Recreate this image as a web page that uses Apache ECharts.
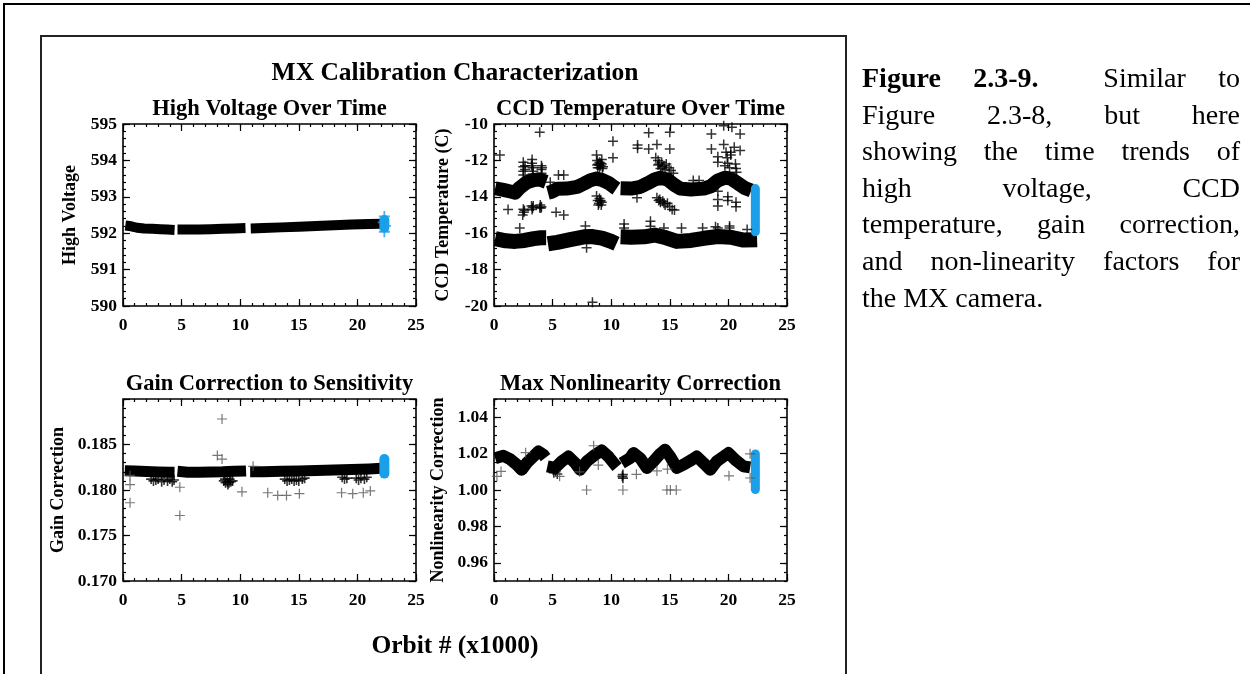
<!DOCTYPE html>
<html>
<head>
<meta charset="utf-8">
<script src="https://cdn.jsdelivr.net/npm/echarts@6/dist/echarts.min.js"></script>
<style>
  html, body { margin:0; padding:0; background:#fff; }
  #wrap { position:relative; width:1250px; height:674px; overflow:hidden; background:#fff; }
  #chart { position:absolute; left:0; top:0; width:1250px; height:674px; }
  #outer { position:absolute; left:3px; top:3px; width:1300px; height:800px; border-top:2px solid #000; border-left:2px solid #000; }
  #inner { position:absolute; left:40px; top:35px; width:803px; height:800px; border:2px solid #222; }
  #cap { position:absolute; left:862px; top:60px; width:378px; font-family:"Liberation Serif", serif; font-size:28px; line-height:36.6px; color:#000; }
  #cap .j { text-align:justify; text-align-last:justify; white-space:nowrap; }
</style>
</head>
<body>
<div id="wrap">
  <div id="outer"></div>
  <div id="inner"></div>
  <div id="chart"></div>
  <div id="cap">
    <div class="j"><b>Figure 2.3-9.</b>&nbsp; Similar to</div>
    <div class="j">Figure 2.3-8, but here</div>
    <div class="j">showing the time trends of</div>
    <div class="j">high voltage, CCD</div>
    <div class="j">temperature, gain correction,</div>
    <div class="j">and non-linearity factors for</div>
    <div>the MX camera.</div>
  </div>
</div>
<script>
// ---------------- tick values ----------------
const orbitTicks = [0, 5, 10, 15, 20, 25];
const hvTicks = [590, 591, 592, 593, 594, 595];
const ccdTicks = [-20, -18, -16, -14, -12, -10];
const gainTicks = [0.170, 0.175, 0.180, 0.185, 0.190];
const gainLabels = [0.170, 0.175, 0.180, 0.185];
const nlTicks = [0.96, 0.98, 1.00, 1.02, 1.04];

// ---------------- High voltage (orbit x1000, volts) ----------------
const hvSeg1 = [[0.2,592.21],[0.7,592.19],[1.2,592.15],[1.8,592.13],[2.5,592.12],[3.2,592.11],[3.8,592.10],[4.4,592.09]];
const hvSeg2 = [[4.65,592.10],[5.5,592.10],[6.5,592.10],[7.5,592.11],[8.5,592.12],[9.5,592.13],[10.45,592.14]];
const hvSeg3 = [[10.9,592.13],[12.0,592.14],[13.5,592.16],[15.0,592.18],[16.5,592.20],[18.0,592.22],[19.5,592.24],[21.0,592.25],[22.05,592.26]];
const hvBlue = [[22.3,592.15],[22.3,592.36]];
const hvBluePlus = [[22.3,592.46],[22.3,592.04],[22.2,592.3],[22.4,592.2]];

// ---------------- CCD temperature (C) ----------------
const ccdUpper1 = [[0.1,-13.53],[0.8,-13.62],[1.4,-13.71],[1.8,-13.77],[2.2,-13.5],[2.8,-13.2],[3.4,-13.08],[3.9,-13.05],[4.45,-13.18]];
const ccdUpper2 = [[4.6,-13.78],[4.95,-13.72],[5.4,-13.56],[6.2,-13.55],[7.1,-13.45],[7.7,-13.27],[8.2,-13.1],[8.7,-13.0],[9.2,-13.07],[9.8,-13.25],[10.2,-13.44],[10.45,-13.55]];
const ccdUpper3 = [[10.8,-13.53],[11.7,-13.55],[12.5,-13.45],[13.1,-13.26],[13.7,-13.05],[14.2,-12.95],[14.8,-13.05],[15.4,-13.35],[15.9,-13.55],[16.8,-13.6],[17.9,-13.55],[18.5,-13.42],[19.1,-13.1],[19.7,-12.95],[20.2,-13.0],[20.8,-13.25],[21.4,-13.52],[21.95,-13.66]];
const ccdLower1 = [[0.1,-16.3],[1.0,-16.42],[1.8,-16.45],[2.6,-16.4],[3.4,-16.3],[4.0,-16.25],[4.45,-16.25]];
const ccdLower2 = [[4.6,-16.58],[5.4,-16.5],[6.5,-16.35],[7.7,-16.2],[8.3,-16.18],[9.2,-16.27],[10.0,-16.45],[10.45,-16.58]];
const ccdLower3 = [[10.8,-16.2],[11.7,-16.22],[12.8,-16.2],[13.7,-16.1],[14.5,-16.22],[15.6,-16.45],[16.8,-16.4],[17.9,-16.28],[19.1,-16.18],[20.2,-16.22],[21.3,-16.38],[22.45,-16.36]];
const ccdBlue = [[22.3,-13.55],[22.3,-15.92]];
const ccdScatter = [
  [0.5,-11.7],[3.9,-10.45],[1.2,-14.7],[2.2,-15.72],[10.15,-10.95],[10.15,-11.85],[12.25,-11.15],[12.25,-11.33],
  [13.2,-10.48],[13.2,-11.38],[13.9,-11.12],[15.0,-10.45],[15.0,-11.38],[18.55,-10.55],[18.55,-11.38],[19.6,-10.1],
  [20.3,-10.18],[21.0,-10.55],[19.6,-11.12],[20.5,-11.28],[21.0,-11.45],[20.2,-11.55],[20.2,-11.7],[8.4,-19.8],
  [12.2,-14.05],[7.9,-16.8],[11.1,-15.5],[11.1,-15.72],[13.35,-15.35],[13.35,-15.62],[7.8,-15.6],[14.5,-15.72],
  [16.0,-15.72],[17.8,-15.72],[19.1,-15.72],[20.1,-15.6],[20.1,-15.72],[5.5,-12.8],[5.95,-12.8],[4.8,-13.2],
  [17.0,-13.1],[17.5,-13.1],[18.9,-15.65],[21.6,-15.8],
  [2.5,-12.1],[2.5,-12.35],[2.5,-12.6],[2.5,-12.8],[2.65,-12.3],[2.65,-12.5],
  [3.25,-11.95],[3.25,-12.15],[3.3,-12.4],[3.35,-12.6],[3.3,-12.75],[3.2,-12.3],
  [4.05,-12.3],[4.05,-12.5],[4.05,-12.7],[4.1,-12.4],
  [8.75,-11.7],[8.8,-12.0],[8.9,-12.2],[9.0,-12.1],[9.1,-12.3],[9.2,-12.2],[9.3,-12.35],[9.0,-12.4],[8.85,-12.4],[9.2,-11.95],
  [8.95,-12.25],[9.1,-12.15],[9.25,-12.45],[8.8,-12.25],
  [13.8,-11.85],[14.0,-12.0],[14.1,-12.2],[14.3,-12.1],[14.5,-12.3],[14.7,-12.2],[14.95,-12.4],[15.1,-12.55],[15.3,-12.7],[14.2,-12.45],
  [14.0,-12.25],[14.35,-12.35],[14.6,-12.5],
  [19.1,-11.8],[19.1,-12.1],[19.8,-11.55],[19.9,-11.85],[19.95,-12.15],[20.1,-12.4],[20.6,-12.2],[20.65,-12.45],[20.7,-12.65],[19.7,-12.3],
  [2.5,-14.68],[2.55,-14.85],[2.45,-15.0],[3.2,-14.5],[3.25,-14.7],[3.3,-14.6],[3.95,-14.45],[4.0,-14.62],[4.05,-14.55],[5.3,-14.85],[5.95,-15.0],
  [2.6,-14.75],[3.35,-14.5],[3.9,-14.6],
  [8.75,-13.95],[8.85,-14.2],[8.95,-14.35],[9.05,-14.25],[9.15,-14.45],[9.0,-14.1],[9.2,-14.3],[8.9,-14.45],[9.1,-14.2],
  [13.9,-14.05],[14.05,-14.2],[14.2,-14.3],[14.4,-14.25],[14.6,-14.45],[15.0,-14.55],[15.2,-14.7],[15.4,-14.72],[14.8,-14.35],
  [14.15,-14.15],[14.5,-14.35],
  [19.1,-13.7],[19.1,-14.15],[19.1,-14.5],[19.95,-14.0],[19.95,-14.2],[20.65,-14.3],[20.65,-14.55]
];

// ---------------- Gain correction ----------------
const gainSeg1 = [[0.15,0.18212],[1.0,0.18208],[2.0,0.18203],[3.0,0.18198],[4.0,0.18195],[4.4,0.18195]];
const gainSeg2 = [[4.65,0.18205],[5.5,0.18195],[6.5,0.18195],[7.5,0.18198],[8.5,0.18200],[9.5,0.18205],[10.5,0.18210]];
const gainSeg3 = [[10.85,0.18200],[12.0,0.18200],[13.5,0.18205],[15.0,0.18210],[16.5,0.18215],[18.0,0.18220],[19.5,0.18225],[21.0,0.18232],[22.05,0.18238]];
const gainFringe = [
  [2.4,0.1812],[2.6,0.1810],[2.8,0.1811],[3.0,0.1812],[3.3,0.1809],[3.5,0.1811],[3.8,0.1810],[4.0,0.1812],[4.2,0.1809],[4.35,0.1811],
  [8.6,0.1810],[8.75,0.1808],[8.9,0.1809],[9.05,0.1808],[9.2,0.1809],[9.35,0.1810],[8.7,0.1812],[9.1,0.1812],[8.95,0.1806],
  [13.8,0.1812],[14.0,0.1810],[14.2,0.1811],[14.4,0.1812],[14.6,0.1810],[14.8,0.1811],[15.0,0.1810],[15.3,0.1812],[15.5,0.1813],
  [18.7,0.1814],[18.9,0.1812],[19.1,0.1813],[19.9,0.1813],[20.1,0.1811],[20.3,0.1813],[20.6,0.1812],[20.8,0.1814]
];
const gainScatter = [[0.6,0.1816],[0.6,0.1806],[0.6,0.1786],[4.85,0.1803],[4.85,0.1772],[8.05,0.1838],[8.45,0.1834],[8.45,0.1878],
  [10.15,0.1798],[11.1,0.1826],[12.35,0.1797],[13.2,0.1794],[13.95,0.1794],[15.05,0.1796],[18.65,0.1797],[19.6,0.1796],[20.5,0.1797],[21.1,0.1799]];
const gainBlue = [[22.3,0.1818],[22.3,0.1834]];

// ---------------- Max nonlinearity correction ----------------
const nlSeg1 = [[0.1,1.0175],[0.8,1.0188],[1.37,1.017],[1.94,1.0139],[2.36,1.0111],[2.79,1.0148],[3.36,1.0184],[3.79,1.0212],[4.21,1.0194],[4.4,1.0178]];
const nlSeg2 = [[4.55,1.013],[5.2,1.0121],[5.78,1.0157],[6.35,1.0184],[6.92,1.0148],[7.34,1.0111],[7.91,1.0157],[8.63,1.0194],[9.19,1.0217],[9.76,1.0184],[10.33,1.0139],[10.5,1.0126]];
const nlSeg3 = [[10.9,1.0148],[11.61,1.0175],[11.9,1.0203],[12.47,1.0175],[13.04,1.0121],[13.6,1.0157],[14.18,1.0199],[14.6,1.0221],[15.03,1.0184],[15.6,1.0121],[16.17,1.0139],[16.88,1.0166],[17.3,1.0184],[17.88,1.0148],[18.45,1.0111],[19.0,1.0157],[19.58,1.0184],[20.0,1.0203],[20.58,1.0166],[21.29,1.013],[21.86,1.0124]];
const nlFringe = [[5.1,1.0095],[5.4,1.0088],[5.25,1.0102],[11.0,1.0065],[11.0,1.0085],[10.95,1.0075]];
const nlScatter = [[0.25,1.0075],[0.6,1.0102],[2.7,1.0205],[5.6,1.0075],[7.3,1.010],[7.9,1.000],[8.5,1.0243],[8.9,1.0137],
  [11.0,1.000],[12.15,1.0086],[13.9,1.0105],[14.8,1.0115],[14.75,1.000],[15.05,1.000],[15.55,1.000],[20.05,1.0078],[21.85,1.0199],[21.85,1.0066]];
const nlBlue = [[22.3,1.0003],[22.3,1.0198]];

// ---------------- styling / layout ----------------
const FONT = 'Liberation Serif';
const BLUE = '#1a9fe8';
const PLUS = 'path://M0,5L10,5M5,0L5,10';

const gridsPos = [
  {left:123, top:124, width:293, height:182},
  {left:494, top:124, width:293, height:182},
  {left:123, top:399, width:293, height:182},
  {left:494, top:399, width:293, height:182}
];

const panels = [
  {title:'High Voltage Over Time', yName:'High Voltage', nameGap:44, yMin:590, yMax:595, yMinor:0.2, yTicks:hvTicks, yLabels:hvTicks, dec:0,
   bands:[[hvSeg1,10],[hvSeg2,10],[hvSeg3,10]], fringe:[], scatter:[], blue:[hvBlue,10], bluePlus:hvBluePlus},
  {title:'CCD Temperature Over Time', yName:'CCD Temperature (C)', nameGap:42, yMin:-20, yMax:-10, yMinor:0.4, yTicks:ccdTicks, yLabels:ccdTicks, dec:0,
   bands:[[ccdUpper1,14],[ccdUpper2,14],[ccdUpper3,14],[ccdLower1,15],[ccdLower2,15],[ccdLower3,15]], fringe:[], scatter:ccdScatter, scatterColor:'#000', scatterWidth:1.5, blue:[ccdBlue,9], bluePlus:[]},
  {title:'Gain Correction to Sensitivity', yName:'Gain Correction', nameGap:56, yMin:0.170, yMax:0.190, yMinor:0.001, yTicks:gainTicks, yLabels:gainLabels, dec:3,
   bands:[[gainSeg1,11],[gainSeg2,11],[gainSeg3,11]], fringe:gainFringe, scatter:gainScatter, scatterColor:'#555', scatterWidth:1.2, blue:[gainBlue,10], bluePlus:[]},
  {title:'Max Nonlinearity Correction', yName:'Nonlinearity Correction', nameGap:47, yMin:0.95, yMax:1.05, yMinor:0.005, yTicks:nlTicks, yLabels:nlTicks, dec:2,
   bands:[[nlSeg1,12],[nlSeg2,12],[nlSeg3,12]], fringe:nlFringe, scatter:nlScatter, scatterColor:'#555', scatterWidth:1.2, blue:[nlBlue,9], bluePlus:[]}
];

const tickStyle = {color:'#000', width:1.2};
const labelStyle = {fontFamily:FONT, fontWeight:'bold', fontSize:17.5, color:'#000'};

const grids = [], xAxes = [], yAxes = [], series = [], graphics = [];

function minorAxis(gi, pos, min, max, step) {
  return {type:'value', gridIndex:gi, position:pos, min, max, interval:step, offset:0,
    axisLine:{show:false, onZero:false}, axisTick:{show:true, inside:true, length:3, lineStyle:tickStyle},
    axisLabel:{show:false}, splitLine:{show:false}, minorTick:{show:false}};
}
function majorAxis(gi, pos, min, max, step, ticks, labels, dec, showLabel, margin) {
  return {type:'value', gridIndex:gi, position:pos, min, max, interval:step, offset:0,
    axisLine:{show:false, onZero:false},
    axisTick:{show:true, inside:true, length:7, lineStyle:tickStyle, customValues:ticks},
    axisLabel:Object.assign({show:showLabel, customValues:labels, margin, showMinLabel:true, showMaxLabel:true,
      formatter:(v)=>Number(v).toFixed(dec)}, labelStyle),
    splitLine:{show:false}};
}
function band(data, xi, yi, width, color, cap) {
  return {type:'line', xAxisIndex:xi, yAxisIndex:yi, data, symbol:'none', showSymbol:false, silent:true, animation:false, z:3,
    lineStyle:{color, width, cap:cap || 'butt', join:'round'}, emphasis:{disabled:true}};
}
function plus(data, xi, yi, color, size, width, z) {
  return {type:'scatter', xAxisIndex:xi, yAxisIndex:yi, data, symbol:PLUS, symbolSize:size, silent:true, animation:false, z,
    itemStyle:{color:'rgba(0,0,0,0)', borderColor:color, borderWidth:width}, emphasis:{disabled:true}};
}

panels.forEach((p, gi) => {
  const g = gridsPos[gi];
  grids.push(Object.assign({show:true, borderColor:'#000', borderWidth:1.6, backgroundColor:'transparent', containLabel:false}, g));
  const xi = xAxes.length;
  xAxes.push(majorAxis(gi, 'bottom', 0, 25, 1, orbitTicks, orbitTicks, 0, true, 10));
  xAxes.push(minorAxis(gi, 'bottom', 0, 25, 1));
  xAxes.push(majorAxis(gi, 'top', 0, 25, 1, orbitTicks, orbitTicks, 0, false, 10));
  xAxes.push(minorAxis(gi, 'top', 0, 25, 1));
  const yi = yAxes.length;
  const ly = majorAxis(gi, 'left', p.yMin, p.yMax, p.yMinor, p.yTicks, p.yLabels, p.dec, true, 6);
  ly.name = p.yName; ly.nameLocation = 'middle'; ly.nameGap = p.nameGap;
  ly.nameTextStyle = {fontFamily:FONT, fontWeight:'bold', fontSize:18, color:'#000'};
  yAxes.push(ly);
  yAxes.push(minorAxis(gi, 'left', p.yMin, p.yMax, p.yMinor));
  yAxes.push(majorAxis(gi, 'right', p.yMin, p.yMax, p.yMinor, p.yTicks, p.yLabels, p.dec, false, 6));
  yAxes.push(minorAxis(gi, 'right', p.yMin, p.yMax, p.yMinor));

  p.bands.forEach(b => series.push(band(b[0], xi, yi, b[1], '#000')));
  if (p.fringe.length) series.push(plus(p.fringe, xi, yi, '#000', 10, 1.6, 4));
  if (p.scatter.length) series.push(plus(p.scatter, xi, yi, p.scatterColor, 10, p.scatterWidth, 4));
  series.push(band(p.blue[0], xi, yi, p.blue[1], BLUE, 'round'));
  if (p.bluePlus.length) series.push(plus(p.bluePlus, xi, yi, BLUE, 11, 1.8, 6));

  graphics.push({type:'text', x:g.left + g.width/2, y:g.top - 15, silent:true,
    style:{text:p.title, fill:'#000', font:'bold 22.5px "Liberation Serif"', align:'center', verticalAlign:'middle'}});
});

graphics.push({type:'text', x:455, y:73, silent:true,
  style:{text:'MX Calibration Characterization', fill:'#000', font:'bold 25.5px "Liberation Serif"', align:'center', verticalAlign:'middle'}});
graphics.push({type:'text', x:455, y:646, silent:true,
  style:{text:'Orbit # (x1000)', fill:'#000', font:'bold 25.5px "Liberation Serif"', align:'center', verticalAlign:'middle'}});

const chart = echarts.init(document.getElementById('chart'), null, {renderer:'canvas'});
chart.setOption({
  animation:false,
  backgroundColor:'transparent',
  grid:grids, xAxis:xAxes, yAxis:yAxes, series, graphic:graphics,
  tooltip:{show:false}
});
</script>
</body>
</html>
